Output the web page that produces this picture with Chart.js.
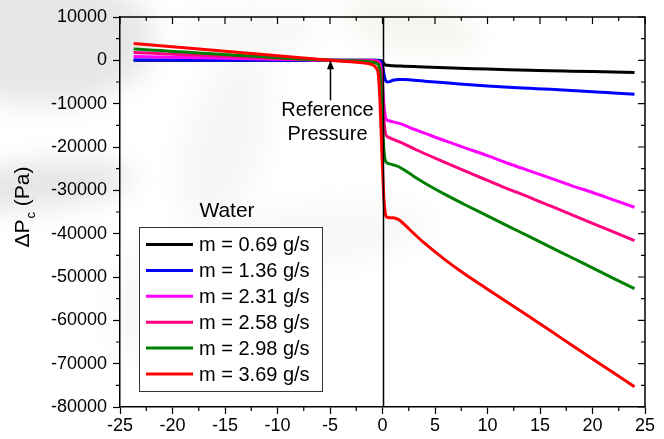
<!DOCTYPE html>
<html>
<head>
<meta charset="utf-8">
<script src="https://cdn.jsdelivr.net/npm/chart.js@4.4.1/dist/chart.umd.min.js"></script>
<style>
  html, body { margin: 0; padding: 0; background: #fff; }
  canvas { display: block; }
</style>
</head>
<body>
<canvas id="chart" width="664" height="439"></canvas>
<script>
// axial position (shared by all runs)
const distance = [-23.7, -5, -1.5, -1, -0.6, -0.4, -0.25, -0.1, 0, 0.1, 0.2, 0.3, 0.45, 0.7, 1, 1.5, 2, 3, 4, 6, 8, 10, 12, 14, 16, 18, 20, 22, 24];

// pressure drop (Pa) for each mass flow rate
const dp069 = [0, 0, 0, 0, 0, 0, -20, -100, -300, -600, -900, -1100, -1150, -1200, -1250, -1300, -1350, -1450, -1550, -1720, -1870, -2020, -2150, -2270, -2400, -2500, -2600, -2700, -2800];
const dp136 = [50, 0, 0, 0, -20, -60, -150, -500, -1200, -2600, -3900, -4700, -5000, -4900, -4600, -4400, -4450, -4600, -4800, -5200, -5550, -5900, -6200, -6450, -6700, -6980, -7250, -7550, -7850];
const dp231 = [900, 0, -50, -80, -150, -300, -700, -2500, -5500, -9000, -11800, -13300, -13800, -14000, -14200, -14500, -14900, -15900, -16800, -18600, -20300, -22000, -23800, -25500, -27200, -28900, -30500, -32200, -33900];
const dp258 = [1800, 0, -100, -150, -250, -450, -1000, -3500, -7500, -12000, -15500, -17000, -17600, -17900, -18200, -18700, -19200, -20400, -21500, -23600, -25700, -27700, -29700, -31600, -33600, -35600, -37600, -39600, -41600];
const dp298 = [2600, 0, -250, -400, -700, -1000, -2500, -9000, -14500, -19500, -22300, -23300, -23700, -23900, -24100, -24500, -25200, -26800, -28300, -31000, -33500, -35900, -38300, -40700, -43100, -45500, -47900, -50300, -52700];
const dp369 = [3900, 0, -700, -1000, -1800, -3200, -9000, -18500, -25000, -30500, -34000, -35700, -36200, -36300, -36300, -36700, -37700, -40000, -42200, -46100, -49600, -52800, -56000, -59200, -62400, -65700, -68900, -72100, -75300];

const flowLabels = ["m = 0.69 g/s", "m = 1.36 g/s", "m = 2.31 g/s", "m = 2.58 g/s", "m = 2.98 g/s", "m = 3.69 g/s"];
const xTicks = [-25, -20, -15, -10, -5, 0, 5, 10, 15, 20, 25];
const yTicks = [10000, 0, -10000, -20000, -30000, -40000, -50000, -60000, -70000, -80000];

const runs = [dp069, dp136, dp231, dp258, dp298, dp369];
const lineColors = ["#000000", "#0000ff", "#ff00ff", "#ff0080", "#008000", "#ff0000"];
const FONT = "'Liberation Sans', Arial, sans-serif";

const datasets = runs.map((vals, i) => ({
  label: flowLabels[i],
  data: distance.map((x, k) => ({ x: x, y: vals[k] })),
  showLine: true,
  borderColor: lineColors[i],
  backgroundColor: lineColors[i],
  borderWidth: 3,
  pointRadius: 0,
  cubicInterpolationMode: 'monotone',
  order: runs.length - 1 - i
}));

const decor = {
  id: 'decor',
  beforeDraw(chart) {
    const ctx = chart.ctx;
    ctx.save();
    ctx.fillStyle = '#fff';
    ctx.fillRect(0, 0, chart.width, chart.height);
    // faint background watermark
    ctx.filter = 'blur(14px)';
    const blobs = [
      [45, 40, 110, 65, 0, 'rgba(200,200,200,0.45)'],
      [40, 185, 95, 22, -0.1, 'rgba(190,188,185,0.4)'],
      [225, 140, 40, 90, 0.3, 'rgba(215,212,205,0.22)'],
      [320, 235, 110, 30, -0.1, 'rgba(225,220,210,0.22)'],
      [410, 25, 70, 25, 0.2, 'rgba(220,215,195,0.28)'],
      [250, 30, 70, 22, 0, 'rgba(225,220,210,0.25)'],
      [150, 300, 40, 60, 0.3, 'rgba(225,225,220,0.22)']
    ];
    blobs.forEach(b => {
      ctx.fillStyle = b[5];
      ctx.beginPath();
      ctx.ellipse(b[0], b[1], b[2], b[3], b[4], 0, Math.PI * 2);
      ctx.fill();
    });
    ctx.restore();
  },
  afterDatasetsDraw(chart) {
    const ctx = chart.ctx;
    const xs = chart.scales.x, ys = chart.scales.y;
    const area = chart.chartArea;
    ctx.save();
    // line at x = 0
    const x0 = Math.round(xs.getPixelForValue(0)) + 0.5;
    ctx.strokeStyle = '#000';
    ctx.lineWidth = 1.5;
    ctx.beginPath();
    ctx.moveTo(x0, area.top);
    ctx.lineTo(x0, area.bottom);
    ctx.stroke();

    // reference pressure arrow
    const ax = Math.round(xs.getPixelForValue(-5)) + 0.5;
    const ay = ys.getPixelForValue(0);
    ctx.lineWidth = 1.5;
    ctx.beginPath();
    ctx.moveTo(ax, ay + 7);
    ctx.lineTo(ax, ay + 40);
    ctx.stroke();
    ctx.fillStyle = '#000';
    ctx.beginPath();
    ctx.moveTo(ax, ay);
    ctx.lineTo(ax - 3.5, ay + 9);
    ctx.lineTo(ax + 3.5, ay + 9);
    ctx.closePath();
    ctx.fill();
    ctx.font = '20px ' + FONT;
    ctx.textAlign = 'center';
    ctx.textBaseline = 'middle';
    ctx.fillText('Reference', ax - 3, ay + 50);
    ctx.fillText('Pressure', ax - 3, ay + 74);
    ctx.restore();
  },
  afterDraw(chart) {
    const ctx = chart.ctx;
    const xs = chart.scales.x, ys = chart.scales.y;
    const area = chart.chartArea;
    ctx.save();
    ctx.strokeStyle = '#000';
    ctx.lineWidth = 1.5;
    // top and right frame
    ctx.beginPath();
    ctx.moveTo(area.left, area.top);
    ctx.lineTo(area.right, area.top);
    ctx.lineTo(area.right, area.bottom);
    ctx.stroke();

    ctx.lineWidth = 1.2;
    ctx.beginPath();
    for (let v = -25; v <= 25; v += 2.5) {
      const px = xs.getPixelForValue(v);
      const major = v % 5 === 0;
      ctx.moveTo(px, area.top);
      ctx.lineTo(px, area.top + (major ? 7 : 4));
      if (!major) {
        ctx.moveTo(px, area.bottom);
        ctx.lineTo(px, area.bottom + 4);
      }
    }
    for (let v = -80000; v <= 10000; v += 5000) {
      const py = ys.getPixelForValue(v);
      const major = v % 10000 === 0;
      ctx.moveTo(area.right, py);
      ctx.lineTo(area.right - (major ? 7 : 4), py);
      if (!major) {
        ctx.moveTo(area.left, py);
        ctx.lineTo(area.left - 4, py);
      }
    }
    ctx.stroke();

    // legend box
    const lx = 139, ly = 227, lw = 183, lh = 164;
    ctx.fillStyle = '#fff';
    ctx.fillRect(lx, ly, lw, lh);
    ctx.lineWidth = 1;
    ctx.strokeStyle = '#333';
    ctx.strokeRect(lx + 0.5, ly + 0.5, lw, lh);
    ctx.font = '20px ' + FONT;
    ctx.textAlign = 'left';
    ctx.textBaseline = 'middle';
    chart.data.datasets.forEach((ds, i) => {
      const ry = ly + 17.5 + i * 25.9;
      ctx.strokeStyle = ds.borderColor;
      ctx.lineWidth = 3;
      ctx.beginPath();
      ctx.moveTo(146, ry);
      ctx.lineTo(193, ry);
      ctx.stroke();
      ctx.fillStyle = '#000';
      ctx.fillText(ds.label, 199, ry + 1);
    });
    ctx.font = '21px ' + FONT;
    ctx.textAlign = 'center';
    ctx.fillText('Water', 227, 211);

    // y axis title with subscript
    ctx.translate(29, 207);
    ctx.rotate(-Math.PI / 2);
    ctx.textAlign = 'left';
    ctx.textBaseline = 'alphabetic';
    const big = '21px ' + FONT, small = '13px ' + FONT;
    ctx.font = big;
    const w1 = ctx.measureText('\u0394P').width;
    const w3 = ctx.measureText(' (Pa)').width;
    ctx.font = small;
    const w2 = ctx.measureText('c').width + 1;
    let tx = -(w1 + w2 + w3) / 2;
    ctx.font = big;
    ctx.fillText('\u0394P', tx, 0);
    tx += w1;
    ctx.font = small;
    ctx.fillText('c', tx + 1, 6);
    tx += w2;
    ctx.font = big;
    ctx.fillText(' (Pa)', tx, 0);
    ctx.restore();
  }
};

new Chart(document.getElementById('chart'), {
  type: 'scatter',
  data: { datasets: datasets },
  options: {
    responsive: false,
    animation: false,
    layout: { padding: { top: 17, right: 19, left: 0, bottom: 0 } },
    plugins: { legend: { display: false }, tooltip: { enabled: false } },
    scales: {
      x: {
        type: 'linear',
        min: xTicks[0],
        max: xTicks[xTicks.length - 1],
        afterBuildTicks: s => { s.ticks = xTicks.map(v => ({ value: v })); },
        afterFit: s => { s.height = 32; },
        ticks: { color: '#000', font: { size: 18, family: FONT }, padding: 1, maxRotation: 0, callback: v => String(v) },
        grid: { drawOnChartArea: false, tickLength: 7, tickColor: '#000', tickWidth: 1.2 },
        border: { color: '#000', width: 1.5 }
      },
      y: {
        type: 'linear',
        min: yTicks[yTicks.length - 1],
        max: yTicks[0],
        afterBuildTicks: s => { s.ticks = yTicks.map(v => ({ value: v })); },
        afterFit: s => { s.width = 120; },
        ticks: { color: '#000', font: { size: 18, family: FONT }, padding: 6, callback: v => String(v) },
        grid: { drawOnChartArea: false, tickLength: 7, tickColor: '#000', tickWidth: 1.2 },
        border: { color: '#000', width: 1.5 }
      }
    }
  },
  plugins: [decor]
});
</script>
</body>
</html>
